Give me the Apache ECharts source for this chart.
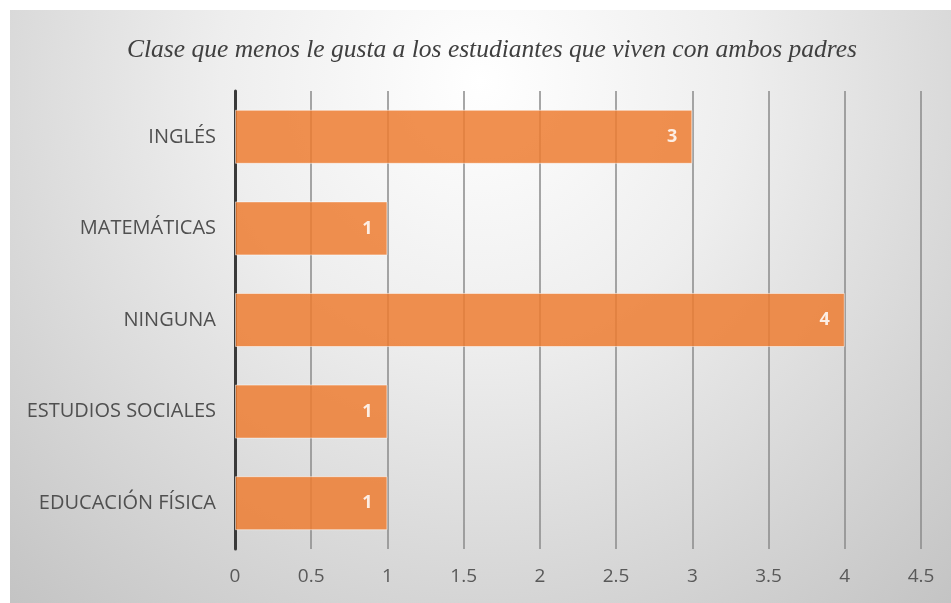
<!DOCTYPE html>
<html>
<head>
<meta charset="utf-8">
<script src="https://cdn.jsdelivr.net/npm/echarts@6/dist/echarts.min.js"></script>
<style>
  html, body { margin: 0; padding: 0; background: #fff; }
  #main { position: absolute; left: 10px; top: 10px; width: 941px; height: 593px; }
</style>
</head>
<body>
<div id="main"></div>
<script>
// datos
const titulo = 'Clase que menos le gusta a los estudiantes que viven con ambos padres'
const clases = ['INGLÉS', 'MATEMÁTICAS', 'NINGUNA', 'ESTUDIOS SOCIALES', 'EDUCACIÓN FÍSICA']
const cantidades = [3, 1, 4, 1, 1]

const myChart = echarts.init(document.getElementById('main'))
myChart.setOption({
  backgroundColor: {
    type: 'radial',
    x: 0.5, y: 0.12, r: 1.25,
    colorStops: [
      {offset: 0, color: '#ffffff'},
      {offset: 0.35, color: '#eeeeee'},
      {offset: 1, color: '#c0c0c0'}
    ]
  },
  title: {
    text: titulo,
    left: 477,
    textAlign: 'center',
    top: 22,
    textStyle: {
      fontFamily: 'Liberation Serif',
      fontStyle: 'italic',
      fontWeight: 'normal',
      fontSize: 25.5,
      color: '#404040'
    }
  },
  grid: {left: 225, right: 30, top: 81, bottom: 54},
  xAxis: {
    type: 'value',
    min: 0,
    max: 4.5,
    interval: 0.5,
    axisLine: {show: false},
    axisTick: {show: false},
    axisLabel: {
      margin: 18,
      fontFamily: 'Open Sans',
      fontSize: 19,
      color: '#595959'
    },
    splitLine: {lineStyle: {color: '#8a8a8a', width: 1.5}}
  },
  yAxis: {
    type: 'category',
    data: clases,
    inverse: true,
    axisLine: {lineStyle: {color: '#3a3a3a', width: 3}},
    axisTick: {show: false},
    axisLabel: {
      margin: 19,
      fontFamily: 'Open Sans',
      fontSize: 20,
      color: '#505050'
    }
  },
  series: [
    {
      type: 'bar',
      data: cantidades,
      barCategoryGap: '41%',
      itemStyle: {
        color: '#ED7D31',
        opacity: 0.85,
        borderColor: 'rgba(255,255,255,0.6)',
        borderWidth: 1
      },
      label: {
        show: true,
        position: 'insideRight',
        distance: 15,
        color: '#ffffff',
        fontWeight: 'bold',
        fontFamily: 'Open Sans',
        fontSize: 18
      }
    }
  ]
})
</script>
</body>
</html>
